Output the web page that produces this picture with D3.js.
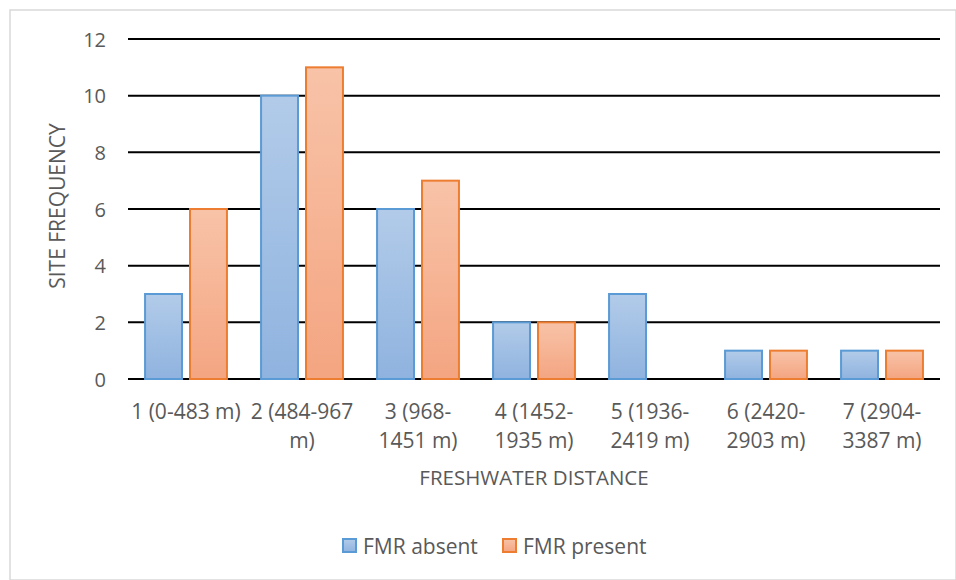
<!DOCTYPE html>
<html>
<head>
<meta charset="utf-8">
<script src="https://cdn.jsdelivr.net/npm/d3@7"></script>
<style>
  body { margin: 0; background: #fff; }
  text { font-family: "Open Sans", Lato, sans-serif; fill: #595959; }
</style>
</head>
<body>
<div id="chart"></div>
<script>
// data
const categories = [
  ["1 (0-483 m)"],
  ["2 (484-967", "m)"],
  ["3 (968-", "1451 m)"],
  ["4 (1452-", "1935 m)"],
  ["5 (1936-", "2419 m)"],
  ["6 (2420-", "2903 m)"],
  ["7 (2904-", "3387 m)"]
];
const absent = [3, 10, 6, 2, 3, 1, 1];
const present = [6, 11, 7, 2, 0, 1, 1];
const seriesNames = ["FMR absent", "FMR present"];
const yTicks = [0, 2, 4, 6, 8, 10, 12];

const W = 956, H = 580;
const margin = { top: 39, right: 16, bottom: 201, left: 128 };
const width = W - margin.left - margin.right,
      height = H - margin.top - margin.bottom;

const svgRoot = d3.select("#chart").append("svg")
  .attr("width", W).attr("height", H);

// outer chart border
svgRoot.append("rect")
  .attr("x", 10).attr("y", 10)
  .attr("width", W - 10).attr("height", H - 10)
  .attr("fill", "none").attr("stroke", "#d9d9d9").attr("stroke-width", 1.5);

const defs = svgRoot.append("defs");
const gradBlue = defs.append("linearGradient").attr("id", "gBlue")
  .attr("x1", 0).attr("y1", 0).attr("x2", 0).attr("y2", 1);
gradBlue.append("stop").attr("offset", "0%").attr("stop-color", "#b2cbe9");
gradBlue.append("stop").attr("offset", "100%").attr("stop-color", "#8fb3df");
const gradOrange = defs.append("linearGradient").attr("id", "gOrange")
  .attr("x1", 0).attr("y1", 0).attr("x2", 0).attr("y2", 1);
gradOrange.append("stop").attr("offset", "0%").attr("stop-color", "#f8c3a8");
gradOrange.append("stop").attr("offset", "100%").attr("stop-color", "#f4a581");

const svg = svgRoot.append("g")
  .attr("transform", `translate(${margin.left}, ${margin.top})`);

const idx = d3.range(categories.length);
const x = d3.scaleBand().domain(idx).range([0, width]);
const bw = x.bandwidth();
// two bars per group, outer gap ~15% of the group on each side
const xs = d3.scaleBand().domain([0, 1])
  .range([0.147 * bw, 0.853 * bw])
  .paddingInner(0.178).paddingOuter(0);

const y = d3.scaleLinear().domain([0, 12]).range([height, 0]);

// gridlines
svg.append("g")
  .selectAll("line")
  .data(yTicks)
  .enter().append("line")
  .attr("x1", 0).attr("x2", width)
  .attr("y1", d => y(d)).attr("y2", d => y(d))
  .attr("stroke", "#000").attr("stroke-width", 2);

// y tick labels
svg.append("g")
  .selectAll("text")
  .data(yTicks)
  .enter().append("text")
  .attr("x", -22).attr("y", d => y(d))
  .attr("text-anchor", "end")
  .attr("dominant-baseline", "central")
  .style("font-size", "20px")
  .text(d => d);

// bars
const colors = [
  { fill: "url(#gBlue)", stroke: "#5b9bd5" },
  { fill: "url(#gOrange)", stroke: "#ed7d31" }
];
[absent, present].forEach(function (vals, s) {
  const rows = vals.map((v, i) => ({ i: i, v: v })).filter(d => d.v > 0);
  svg.append("g")
    .selectAll("rect")
    .data(rows)
    .enter().append("rect")
    .attr("x", d => x(d.i) + xs(s))
    .attr("y", d => y(d.v))
    .attr("width", xs.bandwidth())
    .attr("height", d => height - y(d.v))
    .attr("fill", colors[s].fill)
    .attr("stroke", colors[s].stroke)
    .attr("stroke-width", 2);
});

// x labels
const xl = svg.append("g")
  .selectAll("text")
  .data(categories)
  .enter().append("text")
  .attr("x", (d, i) => x(i) + x.bandwidth() / 2)
  .attr("y", height + 40)
  .attr("text-anchor", "middle")
  .style("font-size", "21px");
xl.selectAll("tspan")
  .data(d => d)
  .enter().append("tspan")
  .attr("x", function () { return d3.select(this.parentNode).attr("x"); })
  .attr("dy", (d, i) => i === 0 ? 0 : 29)
  .text(d => d);

// axis titles
svg.append("text")
  .attr("x", width / 2).attr("y", height + 106)
  .attr("text-anchor", "middle")
  .style("font-size", "20.5px")
  .text("FRESHWATER DISTANCE");

svg.append("text")
  .attr("transform", `translate(${-63}, ${height / 2 - 3}) rotate(-90)`)
  .attr("text-anchor", "middle")
  .style("font-size", "21px")
  .text("SITE FREQUENCY");

// legend
const legend = svgRoot.append("g").attr("transform", "translate(343, 546)");
const legX = [0, 160];
seriesNames.forEach(function (name, s) {
  legend.append("rect")
    .attr("x", legX[s]).attr("y", -7)
    .attr("width", 13).attr("height", 13)
    .attr("fill", colors[s].fill)
    .attr("stroke", colors[s].stroke)
    .attr("stroke-width", 2);
  legend.append("text")
    .attr("x", legX[s] + 20).attr("y", 0)
    .attr("dominant-baseline", "central")
    .style("font-size", "21px")
    .text(name);
});
</script>
</body>
</html>
